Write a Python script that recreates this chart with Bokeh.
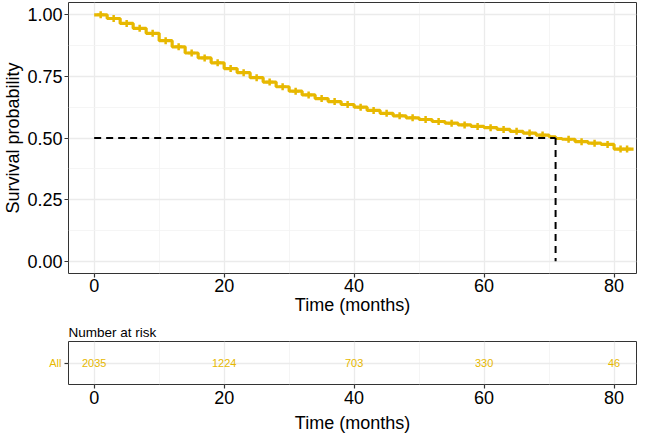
from bokeh.plotting import figure
from bokeh.models import Range1d, FixedTicker
from bokeh.layouts import column
from bokeh.embed import file_html
from bokeh.resources import INLINE
from bokeh.core.properties import value
import numpy as np

# Kaplan-Meier curve
km_time = [0, 2, 4, 6, 8, 10, 12, 14, 16, 18, 20, 22, 24, 26, 28, 30, 32, 34, 36, 38,
           40, 42, 44, 46, 48, 50, 52, 54, 56, 58, 60, 62, 64, 66, 68, 70, 71, 72, 74,
           76, 78, 80, 83]
km_surv = [1.000, 0.985, 0.965, 0.945, 0.925, 0.895, 0.870, 0.845, 0.825, 0.805, 0.782,
           0.765, 0.745, 0.727, 0.708, 0.690, 0.675, 0.660, 0.648, 0.636, 0.625, 0.612,
           0.600, 0.590, 0.582, 0.575, 0.567, 0.560, 0.553, 0.547, 0.542, 0.535, 0.527,
           0.520, 0.512, 0.505, 0.498, 0.495, 0.485, 0.479, 0.474, 0.455, 0.455]
censor_time = [1, 3, 5, 7, 9, 11, 13, 15, 17, 19, 21, 23, 25, 27, 29, 31, 33, 35, 37, 39,
               41, 43, 45, 47, 49, 51, 53, 55, 57, 59, 61, 63, 65, 67, 69, 73, 75, 77,
               79, 81, 82]
median_time = 71
median_surv = 0.5

# Risk table
risk_time = [0, 20, 40, 60, 80]
risk_n = ["2035", "1224", "703", "330", "46"]
strata_label = "All"

x_ticks = [0, 20, 40, 60, 80]
y_ticks = [0.0, 0.25, 0.5, 0.75, 1.0]
y_tick_labels = {0.0: "0.00", 0.25: "0.25", 0.5: "0.50", 0.75: "0.75", 1.0: "1.00"}

YELLOW = "#E7B800"
FONT = "Liberation Sans"
BORDER = "#333333"


def style(p):
    p.outline_line_color = BORDER
    p.outline_line_width = 1
    p.background_fill_color = "white"
    for ax in (p.xaxis, p.yaxis):
        ax.axis_line_color = None
        ax.major_tick_line_color = BORDER
        ax.major_tick_line_width = 1.2
        ax.major_tick_out = 4
        ax.major_tick_in = 0
        ax.minor_tick_line_color = None
        ax.major_label_text_font = FONT
        ax.major_label_text_color = "black"
        ax.axis_label_text_font = FONT
        ax.axis_label_text_font_style = "normal"
        ax.axis_label_text_color = "black"
    p.xaxis.ticker = FixedTicker(ticks=x_ticks, minor_ticks=[10, 30, 50, 70])
    p.xgrid.grid_line_color = "#EBEBEB"
    p.xgrid.grid_line_width = 1.3
    p.xgrid.minor_grid_line_color = "#F2F2F2"
    p.xgrid.minor_grid_line_width = 0.8
    p.ygrid.grid_line_color = "#EBEBEB"
    p.ygrid.grid_line_width = 1.3


p = figure(width=640, height=317, output_backend="svg", toolbar_location=None,
           x_range=Range1d(-3.95, 83.45), y_range=Range1d(-0.05, 1.05),
           min_border_left=60, min_border_right=4, min_border_top=2, min_border_bottom=20)
style(p)
p.yaxis.ticker = FixedTicker(ticks=y_ticks, minor_ticks=[0.125, 0.375, 0.625, 0.875])
p.yaxis.major_label_overrides = y_tick_labels
p.ygrid.minor_grid_line_color = "#F2F2F2"
p.ygrid.minor_grid_line_width = 0.8
p.xaxis.major_label_text_font_size = "18px"
p.yaxis.major_label_text_font_size = "18px"
p.xaxis.axis_label = "Time (months)"
p.yaxis.axis_label = "Survival probability"
p.xaxis.axis_label_text_font_size = "18px"
p.yaxis.axis_label_text_font_size = "18px"
p.xaxis.axis_label_standoff = 0
p.yaxis.axis_label_standoff = 1
p.xaxis.major_label_standoff = 1
p.yaxis.major_label_standoff = 2

p.step(km_time, km_surv, mode="after", line_color=YELLOW, line_width=3.2)
t_arr = np.array(km_time)
s_arr = np.array(km_surv)
idx = np.searchsorted(t_arr, np.array(censor_time), side="right") - 1
p.scatter(censor_time, s_arr[idx].tolist(), marker="cross", size=7,
          line_color=YELLOW, line_width=2.5)
p.line([0, median_time], [median_surv, median_surv], line_color="black",
       line_width=2, line_dash="7 5")
p.line([median_time, median_time], [median_surv, 0], line_color="black",
       line_width=2, line_dash="7 5")

r = figure(width=640, height=114, output_backend="svg", toolbar_location=None,
           x_range=Range1d(-3.95, 83.45), y_range=Range1d(0.4, 1.6),
           min_border_left=60, min_border_right=4, min_border_top=0, min_border_bottom=20,
           title="Number at risk")
style(r)
r.title.text_font = FONT
r.title.text_font_size = "13.5px"
r.title.text_font_style = "normal"
r.title.text_color = "black"
r.title.align = "left"
r.title.standoff = 3
r.yaxis.ticker = FixedTicker(ticks=[1])
r.yaxis.major_label_overrides = {1: strata_label}
r.yaxis.major_label_text_font_size = "11px"
r.yaxis.major_label_text_color = YELLOW
r.yaxis.major_label_standoff = 3
r.xaxis.major_label_text_font_size = "18px"
r.xaxis.axis_label = "Time (months)"
r.xaxis.axis_label_text_font_size = "18px"
r.xaxis.axis_label_standoff = 6
r.xaxis.major_label_standoff = 2
r.text(x=risk_time, y=[1] * len(risk_time), text=risk_n, text_align="center",
       text_baseline="middle", text_font=value(FONT), text_font_size="11px",
       text_color=YELLOW)

layout = column(p, r, spacing=4)
open("out.html", "w").write(file_html(layout, INLINE))
